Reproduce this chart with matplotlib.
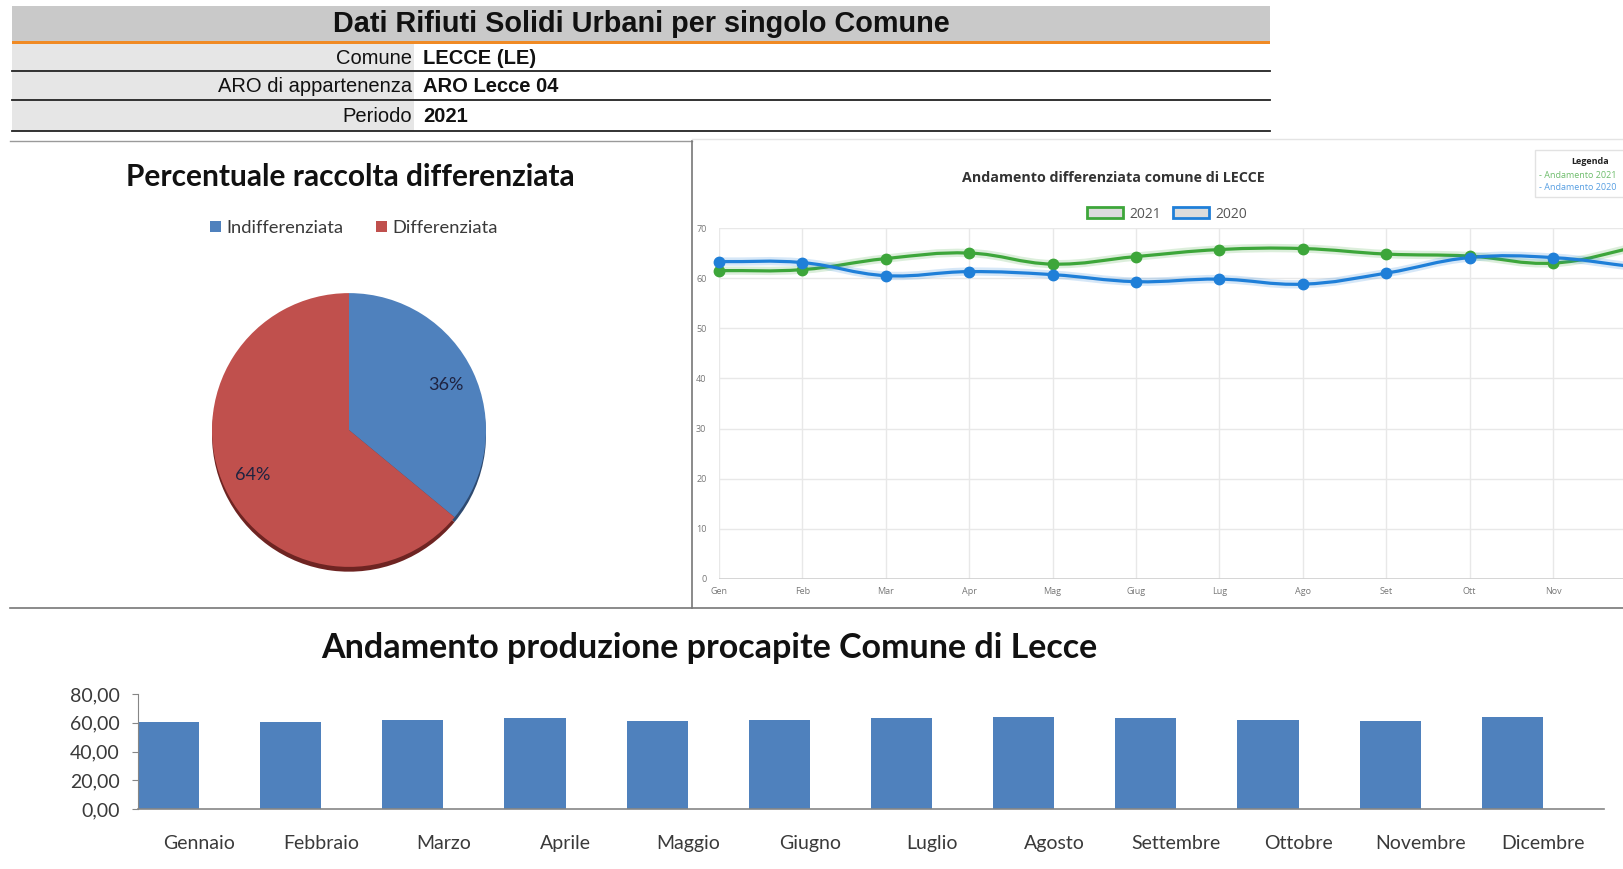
import matplotlib
matplotlib.use("Agg")
import matplotlib.pyplot as plt
from matplotlib.patches import Rectangle, PathPatch
from matplotlib.path import Path
import numpy as np

W, H = 1624, 869

# ---------------- data ----------------
header_title = "Dati Rifiuti Solidi Urbani per singolo Comune"
info_labels = ["Comune", "ARO di appartenenza", "Periodo"]
info_values = ["LECCE (LE)", "ARO Lecce 04", "2021"]

pie_title = "Percentuale raccolta differenziata"
pie_labels = ["Indifferenziata", "Differenziata"]
pie_values = [36, 64]
pie_colors = ["#4F81BD", "#C0504D"]

line_title = "Andamento differenziata comune di LECCE"
line_months = ["Gen", "Feb", "Mar", "Apr", "Mag", "Giug", "Lug", "Ago", "Set", "Ott", "Nov", "Dic"]
diff_2021 = [61.5, 61.7, 63.9, 65.0, 62.8, 64.3, 65.7, 65.9, 64.8, 64.4, 63.0, 66.2]
diff_2020 = [63.3, 63.1, 60.5, 61.3, 60.7, 59.3, 59.8, 58.8, 61.0, 64.1, 64.1, 62.2]
line_series = ["2021", "2020"]
line_colors = ["#3DA63A", "#1F7FD8"]
line_yticks = [0, 10, 20, 30, 40, 50, 60, 70]
legenda_items = ["- Andamento 2021", "- Andamento 2020"]

bar_title = "Andamento produzione procapite Comune di Lecce"
bar_months = ["Gennaio", "Febbraio", "Marzo", "Aprile", "Maggio", "Giugno",
              "Luglio", "Agosto", "Settembre", "Ottobre", "Novembre", "Dicembre"]
procapite = [60.3, 60.3, 62.2, 63.3, 61.3, 62.2, 63.3, 64.2, 63.3, 62.2, 61.3, 64.2]
bar_yticks = [0, 20, 40, 60, 80]


def fx(px):
    return px / W


def fy(py):
    return 1 - py / H


def axes_px(fig, x0, y0, x1, y1, **kw):
    return fig.add_axes([fx(x0), fy(y1), fx(x1 - x0), (y1 - y0) / H], **kw)


fig = plt.figure(figsize=(W / 100, H / 100), dpi=100)
fig.patch.set_facecolor("white")

# background axes in pixel coordinates for table/panel decorations
bg = fig.add_axes([0, 0, 1, 1])
bg.set_xlim(0, W)
bg.set_ylim(H, 0)
bg.axis("off")

# header band
bg.add_patch(Rectangle((12, 6), 1258, 36, facecolor="#C9C9C9", edgecolor="none"))
bg.add_patch(Rectangle((12, 41), 1258, 3, facecolor="#F08A24", edgecolor="none"))
bg.text(641, 24, header_title, ha="center", va="center", fontsize=20.8,
        fontweight="bold", family="Liberation Sans", color="#111111")

row_tops = [44, 72, 101]
row_bottoms = [71, 100, 131]
for i, (lab, val) in enumerate(zip(info_labels, info_values)):
    t, b = row_tops[i], row_bottoms[i]
    bg.add_patch(Rectangle((12, t), 402, b - t, facecolor="#E6E6E6", edgecolor="none"))
    bg.plot([12, 1270], [b, b], color="#222222", lw=1.3)
    yc = (t + b) / 2 + 1
    bg.text(412, yc, lab, ha="right", va="center", fontsize=14.5,
            family="Liberation Sans", color="#111111")
    bg.text(423, yc, val, ha="left", va="center", fontsize=14.5, fontweight="bold",
            family="Liberation Sans", color="#111111")

# panel borders
bg.plot([10, 692], [141, 141], color="#9A9A9A", lw=1)
bg.plot([692, 692], [141, 608], color="#777777", lw=1.2)
bg.plot([692, W], [139, 139], color="#E4E4E4", lw=1)
bg.plot([10, W], [608, 608], color="#777777", lw=1.2)

# ---------------- pie ----------------
pcx, pcy, pr = 349, 430, 137
axp = axes_px(fig, pcx - pr, pcy - pr - 4, pcx + pr, pcy + pr + 4)
shadow_cols = ["#2E4A70", "#6E2422"]
axp.pie(pie_values, colors=shadow_cols, startangle=90, counterclock=False,
        radius=1.0, center=(0, -0.035), frame=True,
        wedgeprops=dict(linewidth=0))
wedges, _, autot = axp.pie(pie_values, colors=pie_colors, startangle=90,
                           counterclock=False, radius=1.0, frame=True,
                           autopct="%d%%", pctdistance=0.78,
                           wedgeprops=dict(linewidth=0),
                           textprops=dict(fontsize=13, family="Lato", color="#1F2340"))
axp.set_xlim(-1, 1)
axp.set_ylim(-1.03, 1.03)
axp.set_aspect("auto")
axp.axis("off")

fig.text(fx(350), fy(177), pie_title, ha="center", va="center", fontsize=21.5,
         fontweight="bold", family="Lato", color="#111111")
fig.legend(wedges, pie_labels, loc="center", bbox_to_anchor=(fx(354), fy(228)),
           ncol=2, frameon=False, handlelength=0.6, handleheight=0.6,
           handletextpad=0.3, columnspacing=1.8,
           prop=dict(family="Lato", size=13.2), labelcolor="#3A3A3A")

# ---------------- line chart ----------------
gx0, dxm = 719.0, 83.4
y70, y0 = 228.0, 579.0
axl = axes_px(fig, gx0, y70, gx0 + 11 * dxm, y0)
axl.set_xlim(0, 11)
axl.set_ylim(0, 70)
axl.set_facecolor("none")
for s in axl.spines.values():
    s.set_visible(False)
axl.set_xticks(range(len(line_months)))
axl.set_xticklabels(line_months)
axl.set_yticks(line_yticks)
axl.tick_params(axis="both", length=0, labelsize=6.5, labelcolor="#777777")
axl.tick_params(axis="x", pad=6)
axl.tick_params(axis="y", pad=9)
for lab in axl.get_xticklabels() + axl.get_yticklabels():
    lab.set_family("Open Sans")
# last month label lies beyond the figure edge (hidden in the reference)
axl.get_xticklabels()[-1].set_visible(False)
axl.grid(True, color="#E8E8E8", lw=1)
axl.axhline(0, color="#CFCFCF", lw=1.2)
axl.set_axisbelow(True)

px_x = dxm
px_y = (y0 - y70) / 70.0


def smooth_path(xs, ys, tension=0.4):
    pts = np.column_stack([np.array(xs, float) * px_x, np.array(ys, float) * px_y])
    n = len(pts)
    cps = []
    for i in range(n):
        p0 = pts[max(i - 1, 0)]
        p1 = pts[i]
        p2 = pts[min(i + 1, n - 1)]
        d01 = np.hypot(*(p1 - p0))
        d12 = np.hypot(*(p2 - p1))
        tot = d01 + d12 if d01 + d12 > 0 else 1
        fa = tension * d01 / tot
        fb = tension * d12 / tot
        cps.append((p1 - fa * (p2 - p0), p1 + fb * (p2 - p0)))
    verts = [pts[0]]
    codes = [Path.MOVETO]
    for i in range(n - 1):
        verts += [cps[i][1], cps[i + 1][0], pts[i + 1]]
        codes += [Path.CURVE4] * 3
    verts = np.array(verts)
    verts[:, 0] /= px_x
    verts[:, 1] /= px_y
    return Path(verts, codes)


xs = np.arange(len(line_months))
for vals, col in zip([diff_2021, diff_2020], line_colors):
    pth = smooth_path(xs, vals)
    axl.add_patch(PathPatch(pth, facecolor="none", edgecolor=col, lw=6, alpha=0.18,
                            clip_on=False))
    axl.add_patch(PathPatch(pth, facecolor="none", edgecolor=col, lw=2.3,
                            clip_on=False))
    axl.plot(xs, vals, "o", color=col, ms=7.5, clip_on=False, zorder=5)

fig.text(fx(1113), fy(178), line_title, ha="center", va="center", fontsize=10.3,
         fontweight="bold", family="Open Sans", color="#333333")
leg_handles = [Rectangle((0, 0), 1, 1, facecolor="#DCDCDC", edgecolor=c, lw=2)
               for c in line_colors]
fig.legend(leg_handles, line_series, loc="center", bbox_to_anchor=(fx(1167), fy(214)),
           ncol=2, frameon=False, handlelength=2.6, handleheight=0.8,
           handletextpad=0.45, columnspacing=0.8,
           prop=dict(family="Open Sans", size=10), labelcolor="#555555")

# "Legenda" box (cut off at right edge)
bg.add_patch(Rectangle((1535, 150), 120, 47, facecolor="white", edgecolor="#E2E2E2", lw=1))
bg.text(1590, 161, "Legenda", ha="center", va="center", fontsize=6.5,
        fontweight="bold", family="Open Sans", color="#222222")
for i, (txt, col) in enumerate(zip(legenda_items, line_colors)):
    bg.text(1539, 175 + 12 * i, txt, ha="left", va="center", fontsize=6.5,
            family="Open Sans", color=col, alpha=0.75)

# ---------------- bar chart ----------------
axb = axes_px(fig, 138, 694, 1604, 809)
xb = np.arange(len(bar_months))
axb.bar(xb - 0.25, procapite, width=0.5, color="#4F81BD", zorder=2)
axb.set_xlim(-0.5, 11.5)
axb.set_ylim(0, 80)
axb.set_yticks(bar_yticks)
axb.set_yticklabels([f"{v:.2f}".replace(".", ",") for v in bar_yticks])
axb.set_xticks(xb)
axb.set_xticklabels(bar_months)
for s in ["top", "right"]:
    axb.spines[s].set_visible(False)
axb.spines["left"].set_color("#868686")
axb.spines["bottom"].set_color("#868686")
axb.spines["bottom"].set_linewidth(1.2)
axb.tick_params(axis="y", length=4, color="#868686", labelsize=14, labelcolor="#3A3A3A", pad=9)
axb.tick_params(axis="x", length=0, labelsize=14, labelcolor="#3A3A3A", pad=19)
for lab in axb.get_xticklabels() + axb.get_yticklabels():
    lab.set_family("Lato")
fig.text(fx(709), fy(648), bar_title, ha="center", va="center", fontsize=24.5,
         fontweight="bold", family="Lato", color="#111111")

fig.savefig("out.png", dpi=100, facecolor="white")
